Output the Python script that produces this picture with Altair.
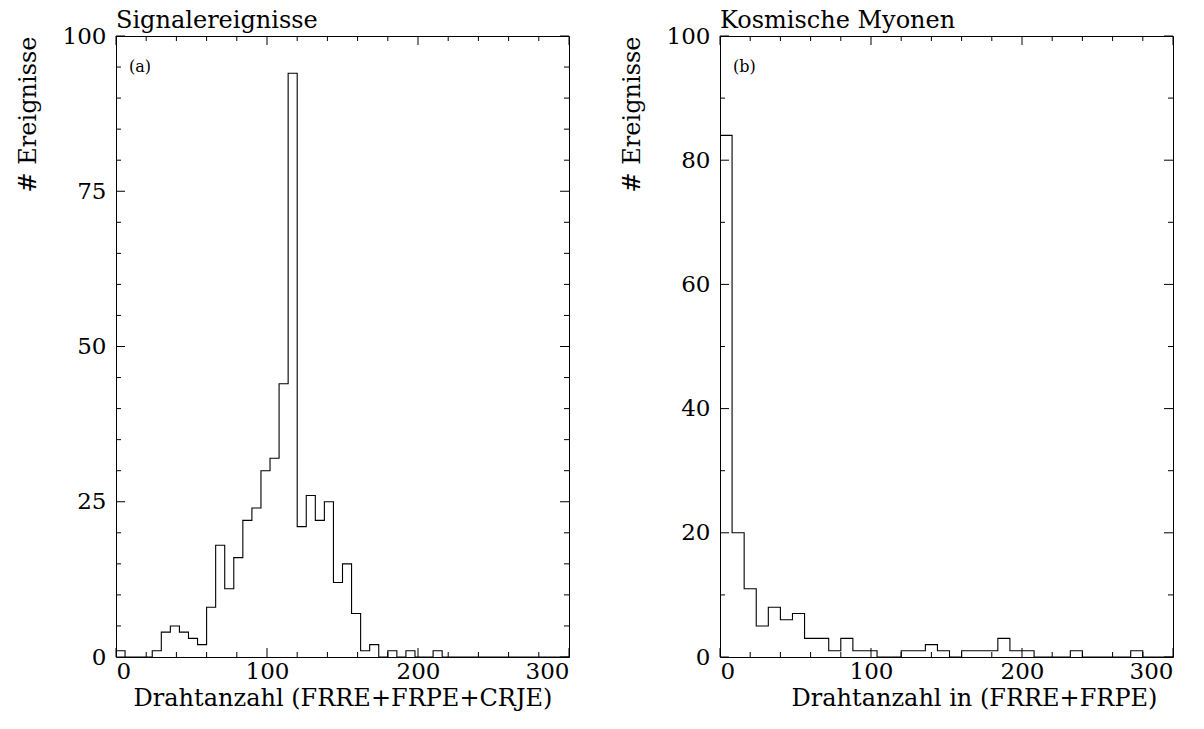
import altair as alt
import pandas as pd

# ---------------- data ----------------
left_bin_width = 6
left_counts = [1, 0, 0, 0, 1, 4, 5, 4, 3, 2,
               8, 18, 11, 16, 22, 24, 30, 32, 44, 94,
               21, 26, 22, 25, 12, 15, 7, 1, 2, 0,
               1, 0, 1, 0, 0, 1, 0, 0, 0, 0,
               0, 0, 0, 0, 0, 0, 0, 0, 0, 0]

right_bin_width = 8
right_counts = [84, 20, 11, 5, 8, 6, 7, 3, 3, 1,
                3, 1, 1, 0, 0, 1, 1, 2, 1, 0,
                1, 1, 1, 3, 1, 1, 0, 0, 0, 1,
                0, 0, 0, 0, 1, 0, 0, 0]

x_major = [0, 100, 200, 300]
x_minor = [20, 40, 60, 80, 120, 140, 160, 180, 220, 240, 260, 280]
left_y_major = [0, 25, 50, 75, 100]
left_y_minor = [5, 10, 15, 20, 30, 35, 40, 45, 55, 60, 65, 70, 80, 85, 90, 95]
right_y_major = [0, 20, 40, 60, 80, 100]
right_y_minor = [10, 30, 50, 70, 90]

titles = ["Signalereignisse", "Kosmische Myonen"]
x_titles = ["Drahtanzahl (FRRE+FRPE+CRJE)", "Drahtanzahl in (FRRE+FRPE)"]
y_title = "# Ereignisse"
panel_labels = ["(a)", "(b)"]

W, H = 453, 621
FONT = "DejaVu Serif"
MAJ, MIN = 9, 5


def step_df(counts, width):
    xs = [i * width for i in range(len(counts))] + [300]
    ys = list(counts) + [counts[-1]]
    return pd.DataFrame({"x": xs, "y": ys})


def panel(counts, width, y_major, y_minor, title, x_title, label, x_title_x=None):
    xsc = alt.Scale(domain=[0, 300], nice=False, zero=False)
    ysc = alt.Scale(domain=[0, 100], nice=False)
    xaxis_kw = dict(values=x_major, ticks=False, domain=False, grid=False,
                    labelPadding=3, title=x_title, titlePadding=3)
    if x_title_x is not None:
        xaxis_kw["titleX"] = x_title_x
        xaxis_kw["titleAlign"] = "center"
    xax = alt.Axis(**xaxis_kw)
    yax = alt.Axis(values=y_major, ticks=False, domain=False, grid=False,
                   labelPadding=10, title=y_title,
                   titleAnchor="end", titlePadding=22)
    line = alt.Chart(step_df(counts, width)).mark_line(
        interpolate="step-after", color="black", strokeWidth=1.1, clip=True
    ).encode(
        x=alt.X("x:Q", scale=xsc, axis=xax),
        y=alt.Y("y:Q", scale=ysc, axis=yax),
    )
    layers = [line]
    for vals, ln in ((x_major, MAJ), (x_minor, MIN)):
        d = pd.DataFrame({"v": vals})
        layers.append(alt.Chart(d).mark_rule(color="black", strokeWidth=1).encode(
            x=alt.X("v:Q", scale=xsc, axis=xax), y=alt.value(H), y2=alt.value(H - ln)))
        layers.append(alt.Chart(d).mark_rule(color="black", strokeWidth=1).encode(
            x=alt.X("v:Q", scale=xsc, axis=xax), y=alt.value(0), y2=alt.value(ln)))
    for vals, ln in ((y_major, MAJ), (y_minor, MIN)):
        d = pd.DataFrame({"v": vals})
        layers.append(alt.Chart(d).mark_rule(color="black", strokeWidth=1).encode(
            y=alt.Y("v:Q", scale=ysc, axis=yax), x=alt.value(0), x2=alt.value(ln)))
        layers.append(alt.Chart(d).mark_rule(color="black", strokeWidth=1).encode(
            y=alt.Y("v:Q", scale=ysc, axis=yax), x=alt.value(W), x2=alt.value(W - ln)))
    lab = alt.Chart(pd.DataFrame({"t": [label]})).mark_text(
        align="left", baseline="middle", font=FONT, fontSize=16, color="black"
    ).encode(x=alt.value(13), y=alt.value(31), text="t:N")
    layers.append(lab)
    return alt.layer(*layers).properties(
        width=W, height=H,
        title=alt.TitleParams(title, anchor="start", frame="group", offset=-8),
    )


left = panel(left_counts, left_bin_width, left_y_major, left_y_minor,
             titles[0], x_titles[0], panel_labels[0])
right = panel(right_counts, right_bin_width, right_y_major, right_y_minor,
              titles[1], x_titles[1], panel_labels[1], x_title_x=254)

chart = alt.hconcat(left, right, spacing=49).properties(
    padding={"left": 15, "top": 8, "right": 5, "bottom": 5},
    background="white",
).configure_view(
    stroke="black", strokeWidth=1
).configure_axis(
    labelFont=FONT, labelFontSize=23, labelColor="black",
    titleFont=FONT, titleFontSize=24, titleFontWeight="normal", titleColor="black",
).configure_title(
    font=FONT, fontSize=24, fontWeight="normal", color="black"
)

chart.save("out.html", embed_options={"renderer": "svg", "actions": False})
